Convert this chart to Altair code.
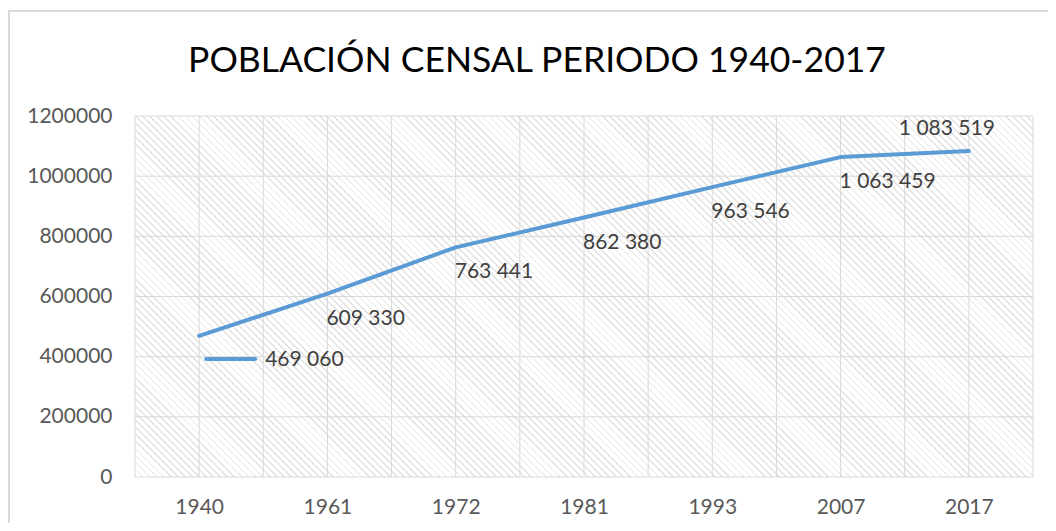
import json
import math
import numpy as np
import pandas as pd
import altair as alt

# ---- data ----
years = ["1940", "1961", "1972", "1981", "1993", "2007", "2017"]
population = [469060, 609330, 763441, 862380, 963546, 1063459, 1083519]
y_ticks = [0, 200000, 400000, 600000, 800000, 1000000, 1200000]
title_text = "POBLACIÓN CENSAL PERIODO 1940-2017"

W, H = 898, 361
FONT = "Lato"
LINE_COLOR = "#5b9bd5"
GRID = "#d9d9d9"

df = pd.DataFrame({
    "idx": list(range(len(years))),
    "year": years,
    "pop": population,
    "label": [f"{v:,}".replace(",", " ") for v in population],
})

# hatch background via striped linear gradient (45deg in pixel space)
D = (W + H) / math.sqrt(2)
period = 5.0
stripe = 1.2
dt = period / D
ds = stripe / D
HATCH = "#e2e2e2"
stops = []
k = 0
while True:
    t0 = k * dt
    if t0 + dt > 1:
        break
    stops += [
        alt.GradientStop(offset=round(t0, 6), color="#ffffff"),
        alt.GradientStop(offset=round(t0, 6), color=HATCH),
        alt.GradientStop(offset=round(t0 + ds, 6), color=HATCH),
        alt.GradientStop(offset=round(t0 + ds, 6), color="#ffffff"),
    ]
    k += 1
dx_g = (W + H) * W / (W * W + H * H)
dy_g = -dx_g * H / W
grad = alt.LinearGradient(gradient="linear", stops=stops,
                          x1=0, y1=1, x2=dx_g, y2=1 + dy_g)

n = len(years)
xs = alt.Scale(domain=[-0.5, n - 0.5], nice=False, zero=False)
ys = alt.Scale(domain=[0, 1200000], nice=False)

label_expr = json.dumps(years) + "[datum.value]"
x_axis = alt.Axis(values=list(range(n)), labelExpr=label_expr, ticks=False,
                  domain=False, grid=False, labelFont=FONT, labelFontSize=21,
                  labelColor="#595959", labelPadding=19, title=None)
y_axis = alt.Axis(values=y_ticks, format="d", ticks=False, domain=False,
                  grid=False, labelFont=FONT, labelFontSize=21,
                  labelColor="#595959", labelPadding=23, title=None)

one = pd.DataFrame({"t": [title_text]})
bg = alt.Chart(one).mark_rect(fill=grad, strokeWidth=0).encode(
    x=alt.value(0), x2=alt.value(W), y=alt.value(0), y2=alt.value(H))
border = alt.Chart(one).mark_rect(fillOpacity=0, stroke=GRID, strokeWidth=2).encode(
    x=alt.value(-126), x2=alt.value(W + 40), y=alt.value(-105), y2=alt.value(H + 60))
title = alt.Chart(one).mark_text(font=FONT, fontSize=35.5, color="#000000",
                                 align="center", baseline="alphabetic").encode(
    x=alt.value(402), y=alt.value(-44), text="t:N")

vgrid_df = pd.DataFrame({"idx": np.arange(-0.5, n - 0.5 + 0.01, 0.5)})
hgrid_df = pd.DataFrame({"pop": y_ticks})
vgrid = alt.Chart(vgrid_df).mark_rule(color=GRID, strokeWidth=1).encode(
    x=alt.X("idx:Q", scale=xs, axis=x_axis))
hgrid = alt.Chart(hgrid_df).mark_rule(color=GRID, strokeWidth=1).encode(
    y=alt.Y("pop:Q", scale=ys, axis=y_axis))

X = alt.X("idx:Q", scale=xs, axis=x_axis)
Y = alt.Y("pop:Q", scale=ys, axis=y_axis)

base = alt.Chart(df)
line = base.mark_line(color=LINE_COLOR, strokeWidth=4, strokeCap="round",
                      strokeJoin="round").encode(x=X, y=Y)

txt_style = dict(font=FONT, fontSize=21, color="#404040", baseline="middle")
mid = base.transform_filter("datum.idx > 0 && datum.idx < %d" % (n - 1)).mark_text(
    align="left", dx=-1, dy=25, **txt_style).encode(x=X, y=Y, text="label:N")
first = base.transform_filter("datum.idx == 0").mark_text(
    align="left", dx=66, dy=24, **txt_style).encode(x=X, y=Y, text="label:N")
last = base.transform_filter("datum.idx == %d" % (n - 1)).mark_text(
    align="center", dx=-22, dy=-22, **txt_style).encode(x=X, y=Y, text="label:N")
key = base.transform_filter("datum.idx == 0").mark_point(
    shape="M -1 0 L 1 0", size=49 * 49, filled=False, stroke=LINE_COLOR,
    strokeWidth=4, strokeCap="round", opacity=1, xOffset=31.5, yOffset=23).encode(x=X, y=Y)

chart = alt.layer(border, bg, vgrid, hgrid, line, key, mid, first, last, title).properties(
    width=W, height=H,
    autosize=alt.AutoSizeParams(type="none"),
    padding={"left": 127, "top": 108, "right": 15, "bottom": 46},
).configure_view(strokeWidth=0)

chart.save("out.html", embed_options={"renderer": "svg", "actions": False})
